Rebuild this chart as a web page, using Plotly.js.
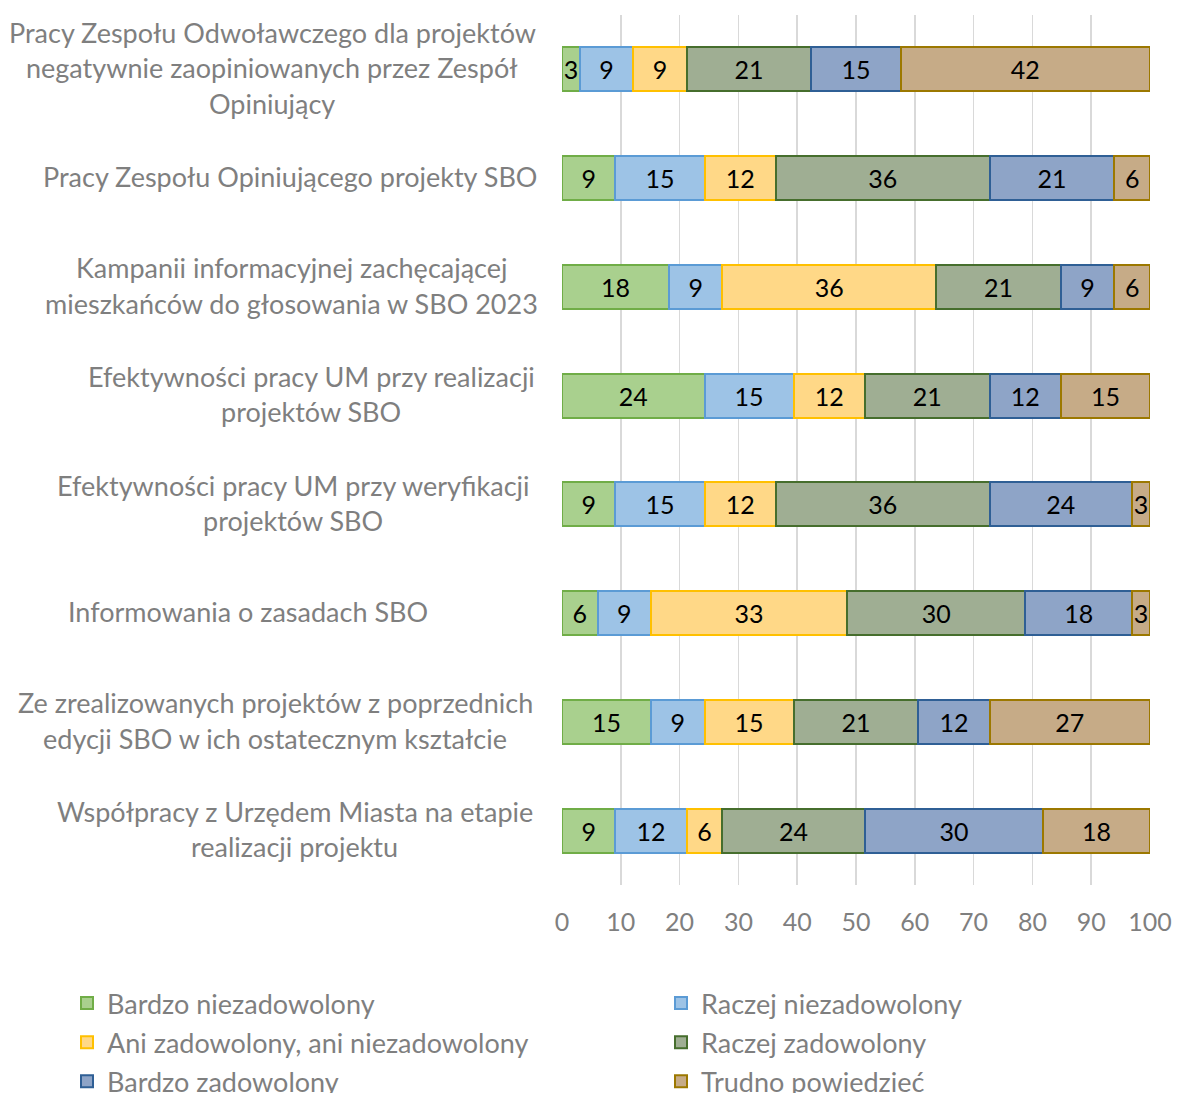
<!DOCTYPE html>
<html>
<head>
<meta charset="utf-8">
<script src="https://cdn.plot.ly/plotly-3.0.1.min.js"></script>
<style>html,body{margin:0;padding:0;background:#fff;}#chart{width:1177px;height:1093px;}</style>
</head>
<body>
<div id="chart"></div>
<script>
// Categories (top to bottom), each as list of wrapped lines
const categoryLines = [
  ["Pracy Zespołu Odwoławczego dla projektów", "negatywnie zaopiniowanych przez Zespół", "Opiniujący"],
  ["Pracy Zespołu Opiniującego projekty SBO"],
  ["Kampanii informacyjnej zachęcającej", "mieszkańców do głosowania w SBO 2023"],
  ["Efektywności pracy UM przy realizacji", "projektów SBO"],
  ["Efektywności pracy UM przy weryfikacji", "projektów SBO"],
  ["Informowania o zasadach SBO"],
  ["Ze zrealizowanych projektów z poprzednich", "edycji SBO w ich ostatecznym kształcie"],
  ["Współpracy z Urzędem Miasta na etapie", "realizacji projektu"]
];
const categories = categoryLines.map(l => l.join(" "));

// Series values (percent)
const bardzoNiezadowolony = [3.03, 9.09, 18.18, 24.24, 9.09, 6.06, 15.15, 9.09];
const raczejNiezadowolony = [9.09, 15.15, 9.09, 15.15, 15.15, 9.09, 9.09, 12.12];
const aniZadowolony       = [9.09, 12.12, 36.36, 12.12, 12.12, 33.33, 15.15, 6.06];
const raczejZadowolony    = [21.21, 36.36, 21.21, 21.21, 36.36, 30.30, 21.21, 24.24];
const bardzoZadowolony    = [15.15, 21.21, 9.09, 12.12, 24.24, 18.18, 12.12, 30.30];
const trudnoPowiedziec    = [42.42, 6.06, 6.06, 15.15, 3.03, 3.03, 27.27, 18.18];

const seriesNames = ["Bardzo niezadowolony", "Raczej niezadowolony", "Ani zadowolony, ani niezadowolony",
                     "Raczej zadowolony", "Bardzo zadowolony", "Trudno powiedzieć"];
const seriesValues = [bardzoNiezadowolony, raczejNiezadowolony, aniZadowolony, raczejZadowolony, bardzoZadowolony, trudnoPowiedziec];

const xTickVals = [0,10,20,30,40,50,60,70,80,90,100];

// styles
const fills   = ["#a9d08e", "#9dc3e6", "#ffd887", "#9fae93", "#8ea4c7", "#c6ab87"];
const borders = ["#70ad47", "#5b9bd5", "#ffc000", "#466e2d", "#2f5f95", "#9c7800"];
const FONT = "Lato, 'Open Sans', sans-serif";
const GRAY = "#7f7f7f";
const FS = 27;      // label / legend text
const FSN = 25;     // numbers

const traces = seriesNames.map((name, i) => ({
  type: "bar",
  orientation: "h",
  name: name,
  y: categories,
  x: seriesValues[i],
  texttemplate: "%{x:.0f}",
  textposition: "inside",
  insidetextanchor: "middle",
  textangle: 0,
  textfont: {family: FONT, size: FSN, color: "#000"},
  marker: {color: fills[i], line: {color: borders[i], width: 2}},
  legend: (i % 2 === 0) ? "legend" : "legend2",
  legendgroup: "g" + i,
  hoverinfo: "skip"
}));

// label centers in px and line spacing
const labelCenters = [272, 290, 291, 311, 293, 248, 275, 294.5];
const lineStep = 35.5;
const annotations = [];
categoryLines.forEach((lines, ci) => {
  const n = lines.length;
  lines.forEach((t, li) => {
    annotations.push({
      xref: "paper", yref: "y",
      x: (labelCenters[ci] - 562) / 588,
      y: categories[ci],
      xanchor: "center", yanchor: "middle",
      yshift: ((n - 1) / 2 - li) * lineStep + 1.5,
      text: t, showarrow: false,
      font: {family: FONT, size: FS, color: GRAY}
    });
  });
});

const legendCommon = {
  orientation: "v",
  font: {family: FONT, size: FS, color: GRAY},
  xref: "paper", yref: "container",
  xanchor: "left", yanchor: "top",
  bgcolor: "rgba(0,0,0,0)",
  tracegroupgap: 1,
  traceorder: "grouped"
};

const layout = {
  width: 1177, height: 1093,
  margin: {l: 562, r: 27, t: 15, b: 208},
  paper_bgcolor: "#fff", plot_bgcolor: "#fff",
  barmode: "stack",
  bargap: 0.595,
  showlegend: true,
  uniformtext: {mode: "show", minsize: FSN},
  xaxis: {
    range: [0, 100],
    tickvals: xTickVals,
    showgrid: true, gridcolor: "#d9d9d9", gridwidth: 1.5,
    zeroline: false, showline: false,
    ticks: "",
    ticklabelstandoff: 20,
    tickfont: {family: FONT, size: FSN, color: GRAY},
    fixedrange: true
  },
  yaxis: {
    type: "category",
    range: [7.5, -0.5],
    showticklabels: false,
    showgrid: false, zeroline: false, showline: false,
    ticks: "",
    fixedrange: true
  },
  legend: Object.assign({}, legendCommon, {x: (67 - 562) / 588, y: 1 - 979/1093}),
  legend2: Object.assign({}, legendCommon, {x: (661 - 562) / 588, y: 1 - 979/1093}),
  annotations: annotations
};

Plotly.newPlot("chart", traces, layout, {staticPlot: true, displayModeBar: false});
</script>
</body>
</html>
